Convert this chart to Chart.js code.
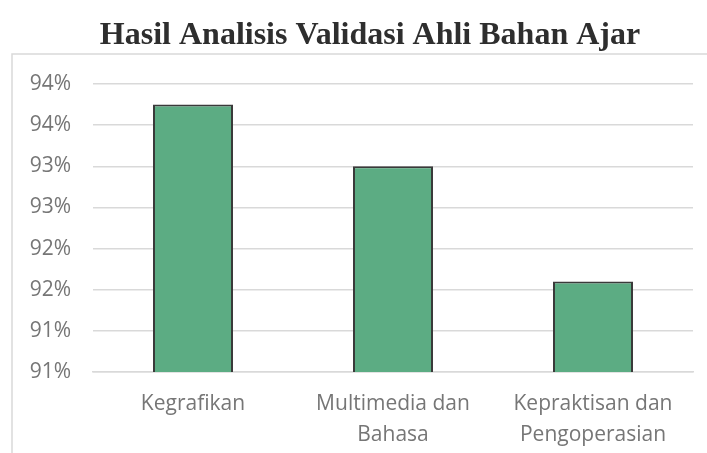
<!DOCTYPE html>
<html>
<head>
<meta charset="utf-8">
<script src="https://cdn.jsdelivr.net/npm/chart.js@4/dist/chart.umd.min.js"></script>
<style>
  html, body { margin: 0; padding: 0; background: #ffffff; }
  #wrap { position: relative; width: 707px; height: 453px; }
</style>
</head>
<body>
<div id="wrap"><canvas id="c" width="707" height="453"></canvas></div>
<script>
const chartTitle = 'Hasil Analisis Validasi Ahli Bahan Ajar';
const categories = ['Kegrafikan', ['Multimedia dan', 'Bahasa'], ['Kepraktisan dan', 'Pengoperasian']];
const values = [93.75, 93.0, 91.6];
const yMin = 90.5;
const yMax = 94.0;
const yStep = 0.5;

const framePlugin = {
  id: 'frame',
  beforeDraw(chart) {
    const ctx = chart.ctx;
    ctx.save();
    ctx.fillStyle = '#ffffff';
    ctx.fillRect(0, 0, chart.width, chart.height);
    ctx.strokeStyle = '#d9d9d9';
    ctx.lineWidth = 1.5;
    ctx.beginPath();
    ctx.moveTo(12, chart.height);
    ctx.lineTo(12, 54);
    ctx.lineTo(chart.width, 54);
    ctx.stroke();
    ctx.fillStyle = '#2e2e2e';
    ctx.font = 'bold 32px "Liberation Serif", "Times New Roman", serif';
    ctx.textAlign = 'center';
    ctx.textBaseline = 'alphabetic';
    ctx.fillText(chartTitle, 370, 44);
    ctx.restore();
  }
};

new Chart(document.getElementById('c'), {
  type: 'bar',
  data: {
    labels: categories,
    datasets: [{
      data: values,
      backgroundColor: 'rgb(92,172,131)',
      borderColor: '#3a3a3a',
      borderWidth: 2,
      borderSkipped: 'bottom',
      barPercentage: 0.4,
      categoryPercentage: 1.0
    }]
  },
  options: {
    responsive: false,
    animation: false,
    layout: { padding: { top: 84, right: 14, left: 0, bottom: 0 } },
    plugins: { legend: { display: false }, title: { display: false }, tooltip: { enabled: false } },
    scales: {
      x: {
        grid: { display: false },
        border: { display: true, color: '#d9d9d9', width: 1.5 },
        ticks: {
          color: '#767676',
          font: { family: '"Open Sans", sans-serif', size: 21, lineHeight: 1.48 },
          maxRotation: 0,
          autoSkip: false,
          padding: 8
        },
        afterFit(scale) { scale.height = 81; }
      },
      y: {
        min: yMin,
        max: yMax,
        border: { display: false },
        grid: { color: '#d9d9d9', lineWidth: 1.5, drawTicks: false },
        ticks: {
          stepSize: yStep,
          color: '#767676',
          font: { family: '"Open Sans", sans-serif', size: 21 },
          padding: 22,
          callback: (v) => Math.round(v) + '%'
        },
        afterFit(scale) { scale.width = 93; }
      }
    }
  },
  plugins: [framePlugin]
});
</script>
</body>
</html>
